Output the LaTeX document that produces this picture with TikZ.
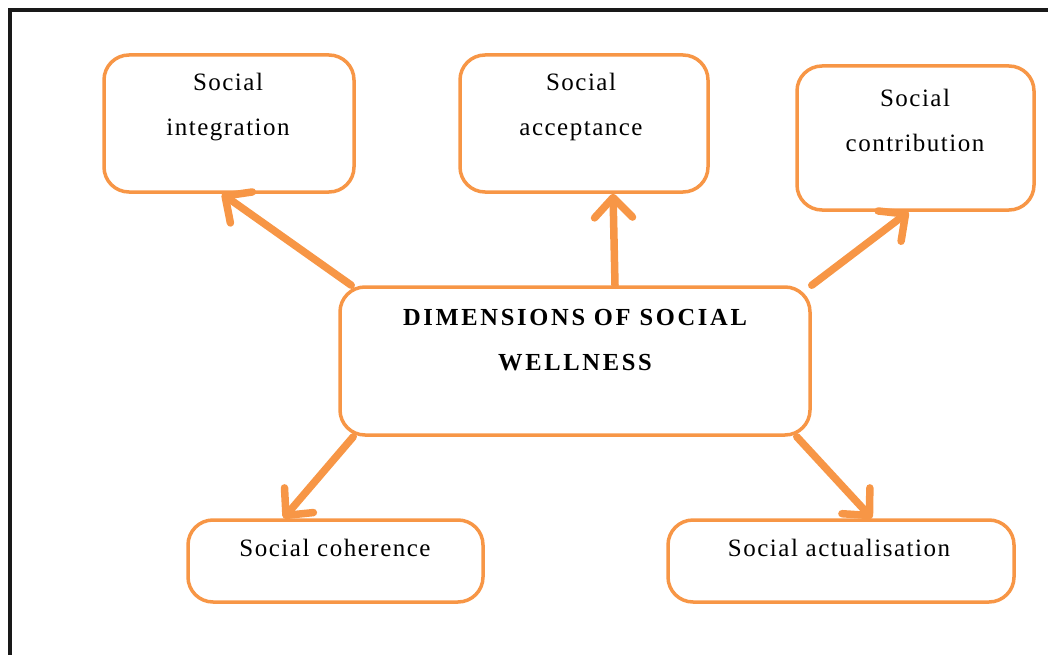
\documentclass[tikz,border=0pt]{standalone}
\usepackage{fontspec}
\setmainfont{Liberation Serif}
\usetikzlibrary{arrows.meta}
\definecolor{wellorange}{HTML}{F79646}

\begin{document}
\begin{tikzpicture}[x=1pt,y=-1pt]
\tikzset{
  dimbox/.style={draw=wellorange, line width=3.5pt, rounded corners=25pt, inner sep=0pt},
  dimarrow/.style={draw=wellorange, line width=7.5pt, line cap=round,
    -{Straight Barb[length=20pt,width=38pt,round]}},
  dimtext/.style={align=center, font=\fontsize{25}{45}\selectfont\addfontfeatures{LetterSpace=6}}
}
\useasboundingbox (0,0) rectangle (1048,655);

% frame
\draw[line width=4pt, black!90] (1048,10) -- (10,10) -- (10,655);

% boxes
\node[dimbox, minimum width=250pt, minimum height=137pt] (integ) at (229,123.5) {};
\node[dimbox, minimum width=248pt, minimum height=137pt] (accept) at (584,123.5) {};
\node[dimbox, minimum width=237pt, minimum height=144pt] (contrib) at (915.5,138) {};
\node[dimbox, minimum width=470pt, minimum height=148pt] (dims) at (575,361) {};
\node[dimbox, minimum width=295pt, minimum height=82pt] (coher) at (335.5,561) {};
\node[dimbox, minimum width=346pt, minimum height=82pt] (actual) at (841,561) {};

% texts
\node[dimtext] (integ-t) at (228,107) {Social\\integration};
\node[dimtext] (accept-t) at (581,107) {Social\\acceptance};
\node[dimtext] (contrib-t) at (915,120) {Social\\contribution};
\node[align=center, font=\fontsize{24.5}{45}\selectfont\bfseries\addfontfeatures{LetterSpace=11}] (dims-t) at (575,340) {DIMENSIONS OF SOCIAL\\WELLNESS};
\node[dimtext] (coher-t) at (335,548) {Social coherence};
\node[dimtext] (actual-t) at (839,548) {Social actualisation};

% arrows
\draw[dimarrow] ([xshift=13pt]dims.north west) -- ([xshift=-7pt]integ.south);
\draw[dimarrow] ([xshift=40pt]dims.north) -- ([xshift=29pt]accept.south);
\draw[dimarrow] (dims.north east) -- ([xshift=-7pt]contrib.south);
\draw[dimarrow] ([xshift=15pt]dims.south west) -- ([xshift=-52pt]coher.north);
\draw[dimarrow] ([xshift=-15pt]dims.south east) -- ([xshift=31pt]actual.north);
\end{tikzpicture}
\end{document}
